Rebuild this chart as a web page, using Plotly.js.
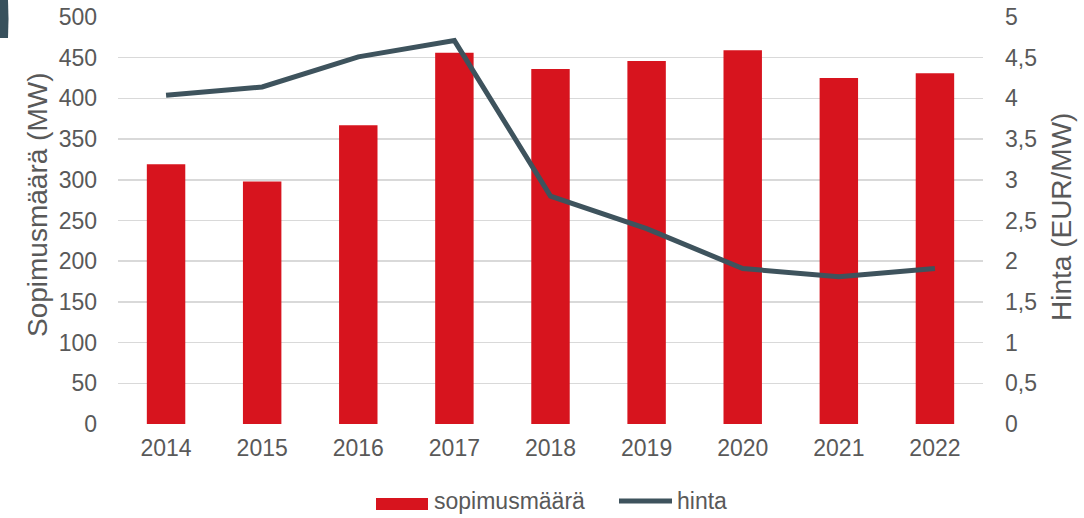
<!DOCTYPE html>
<html><head><meta charset="utf-8">
<script src="https://cdn.plot.ly/plotly-3.0.1.min.js"></script>
<style>body{margin:0;background:#fff}#c{width:1084px;height:518px}</style>
</head><body><div id="c"></div>
<script>
const years = ['2014','2015','2016','2017','2018','2019','2020','2021','2022'];
const sopimusmaara = [319, 298, 367, 456, 436, 446, 459, 425, 431];
const hinta = [4.04, 4.14, 4.51, 4.71, 2.80, 2.40, 1.91, 1.81, 1.91];
const leftTicks = [0,50,100,150,200,250,300,350,400,450,500];
const rightTicks = [0,0.5,1,1.5,2,2.5,3,3.5,4,4.5,5];
const rightLabels = ['0','0,5','1','1,5','2','2,5','3','3,5','4','4,5','5'];
const leftTitle = 'Sopimusmäärä (MW)';
const rightTitle = 'Hinta (EUR/MW)';
const barName = 'sopimusmäärä';
const lineName = 'hinta';

const fontFam = '"Liberation Sans", Arial, sans-serif';
const gray = '#595959';
const barColor = '#d7141e';
const lineColor = '#3e535d';
const W = 1084, H = 518, L = 118, R = 101, T = 17, B = 94;
const pw = W - L - R, ph = H - T - B;
const px = x => (x - L) / pw;        // pixel -> paper x
const py = y => (H - B - y) / ph;    // pixel -> paper y

const data = [
  {type:'bar', x:years, y:sopimusmaara, name:barName, marker:{color:barColor}, yaxis:'y', showlegend:false},
  {type:'scatter', mode:'lines', x:years, y:hinta, name:lineName, line:{color:lineColor, width:5}, yaxis:'y2', showlegend:false}
];
const layout = {
  width:W, height:H,
  margin:{l:L, r:R, t:T, b:B, autoexpand:false},
  paper_bgcolor:'#fff', plot_bgcolor:'#fff',
  font:{family:fontFam, color:gray, size:23},
  bargap:0.6,
  showlegend:false,
  xaxis:{type:'category', tickfont:{size:23, color:gray}, showgrid:false, zeroline:false, showline:false, ticks:'', ticklabelstandoff:8, automargin:false},
  yaxis:{range:[0,500], tickvals:leftTicks, ticktext:leftTicks.map(String), gridcolor:'#d9d9d9', gridwidth:1.5, zeroline:false, showline:false, ticks:'', ticklabelstandoff:20, automargin:false, tickfont:{size:23, color:gray}},
  yaxis2:{range:[0,5], overlaying:'y', side:'right', tickvals:rightTicks, ticktext:rightLabels, showgrid:false, zeroline:false, showline:false, ticks:'', ticklabelstandoff:21, automargin:false, tickfont:{size:23, color:gray}},
  annotations:[
    {text:leftTitle, xref:'paper', yref:'paper', x:px(37), y:py(205), textangle:-90, showarrow:false, xanchor:'center', yanchor:'middle', font:{size:28, color:gray}},
    {text:rightTitle, xref:'paper', yref:'paper', x:px(1062), y:py(217), textangle:-90, showarrow:false, xanchor:'center', yanchor:'middle', font:{size:28, color:gray}},
    {text:barName, xref:'paper', yref:'paper', x:px(432), y:py(501), showarrow:false, xanchor:'left', yanchor:'middle', font:{size:23, color:gray}},
    {text:lineName, xref:'paper', yref:'paper', x:px(675), y:py(501), showarrow:false, xanchor:'left', yanchor:'middle', font:{size:23, color:gray}}
  ],
  shapes:[
    {type:'path', xref:'paper', yref:'paper', path:'M '+px(0)+' '+py(0)+' L '+px(8)+' '+py(0)+' Q '+px(9)+' '+py(19)+' '+px(8)+' '+py(38)+' L '+px(0)+' '+py(38)+' Z', fillcolor:'#37505c', line:{width:0}},
    {type:'rect', xref:'paper', yref:'paper', x0:px(376), x1:px(428), y0:py(498), y1:py(510), fillcolor:barColor, line:{width:0}},
    {type:'line', xref:'paper', yref:'paper', x0:px(619), x1:px(672), y0:py(501), y1:py(501), line:{color:lineColor, width:5}}
  ]
};
Plotly.newPlot('c', data, layout, {displayModeBar:false, staticPlot:true});
</script></body></html>
